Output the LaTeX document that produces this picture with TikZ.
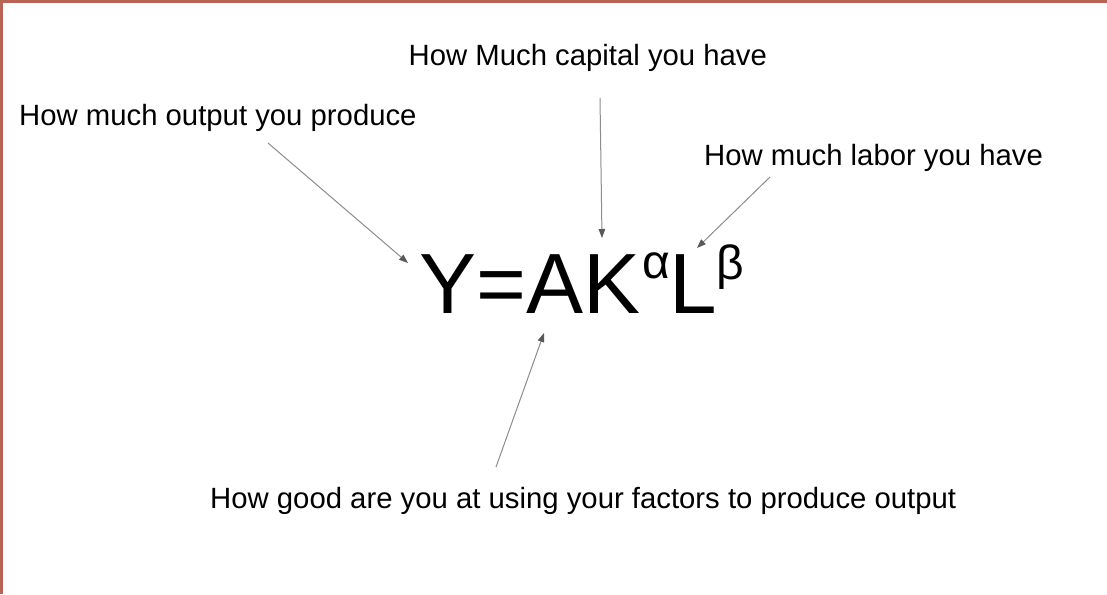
\documentclass[tikz,border=0pt]{standalone}
\usepackage{fontspec}
\setmainfont{Liberation Sans}
\usetikzlibrary{arrows.meta}
\definecolor{frame}{RGB}{186,98,84}
\definecolor{pointer}{RGB}{140,140,140}
\tikzset{
  cdlabel/.style={font=\fontsize{29.3}{34}\selectfont, inner sep=0pt, anchor=base west},
  cdarrow/.style={draw=pointer, line width=1pt, -{Triangle[length=9pt, width=6.5pt, color=black!65]}}
}

\begin{document}
\begin{tikzpicture}[x=1pt, y=-1pt]
      \fill[white] (0,0) rectangle (1107,594);
      \useasboundingbox (0,0) rectangle (1107,594);
      \fill[frame] (0,0) rectangle (1107,3);
      \fill[frame] (0,0) rectangle (3.3,594);
      % labels
      \node[cdlabel] (output)  at (19,125)  {How much output you produce};
      \node[cdlabel] (capital) at (408.5,65)  {How Much capital you have};
      \node[cdlabel] (labor)   at (704,165) {How much labor you have};
      \node[cdlabel] (tfp)     at (210,508) {How good are you at using your factors to produce output};
      % formula
      \node[inner sep=0pt, anchor=base west, font=\fontsize{85.5}{90}\selectfont] (cobb) at (419,313)
        {Y=AK\kern2pt\raisebox{35pt}{\fontsize{48}{50}\selectfont α}L\kern-1pt\raisebox{34pt}{\fontsize{48}{50}\selectfont β}};
      % arrow ends
      \coordinate (outtail) at (268,143);
      \coordinate (outhead) at (408,263);
      \coordinate (captail) at (600,98);
      \coordinate (caphead) at (602,238);
      \coordinate (labtail) at (770,177);
      \coordinate (labhead) at (697,248);
      \coordinate (tfptail) at (496,467);
      \coordinate (tfphead) at (544,333);
      \draw[cdarrow] (outtail) -- (outhead);
      \draw[cdarrow] (captail) -- (caphead);
      \draw[cdarrow] (labtail) -- (labhead);
      \draw[cdarrow] (tfptail) -- (tfphead);
    \end{tikzpicture}
\end{document}
